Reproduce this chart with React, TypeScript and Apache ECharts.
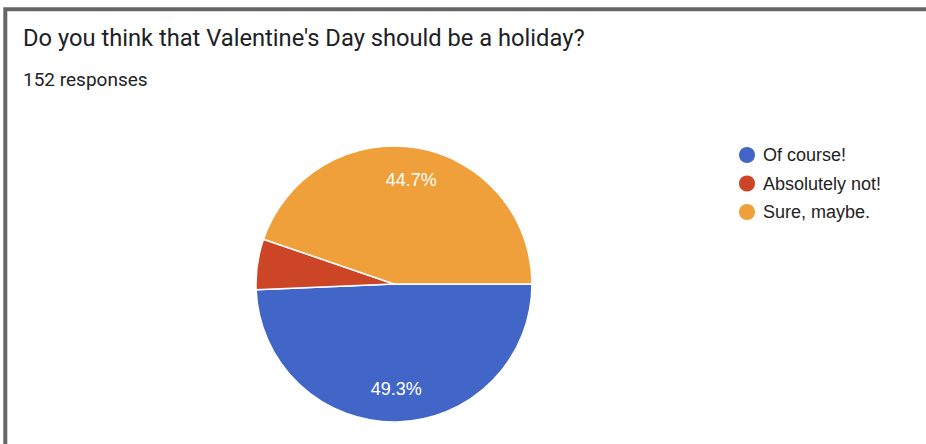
import React, { useEffect, useRef } from "react";
import * as echarts from "echarts";

const title = "Do you think that Valentine's Day should be a holiday?";
const subtitle = "152 responses";
const categories = ["Of course!", "Absolutely not!", "Sure, maybe."];
const responses = [75, 9, 68];
const colors = ["#4166c8", "#cc4526", "#f0a03b"];

export default function App() {
  const ref = useRef<HTMLDivElement>(null);
  useEffect(() => {
    if (!ref.current) return;
    const chart = echarts.init(ref.current, null, { renderer: "svg" });
    const total = responses.reduce((a, b) => a + b, 0);
    const data = categories.map((name, i) => ({
      name,
      value: responses[i],
      itemStyle: { color: colors[i] },
    }));
    const labelData = categories.map((name, i) => ({
      name,
      value: responses[i],
      label: { show: responses[i] / total >= 0.08 },
    }));
    chart.setOption({
      animation: false,
      backgroundColor: "#ffffff",
      color: colors,
      title: [
        {
          text: title,
          left: 18,
          top: 21,
          textStyle: {
            fontFamily: "Roboto",
            fontSize: 23.7,
            fontWeight: "normal",
            color: "#202124",
          },
        },
        {
          text: subtitle,
          left: 18,
          top: 65,
          textStyle: {
            fontFamily: "Roboto",
            fontSize: 19,
            fontWeight: "normal",
            color: "#202124",
          },
        },
      ],
      legend: {
        orient: "vertical",
        left: 732,
        top: 140,
        padding: 5,
        itemWidth: 18,
        itemHeight: 18,
        itemGap: 8.5,
        icon: "circle",
        data: categories,
        textStyle: {
          fontFamily: "Liberation Sans",
          fontSize: 18,
          lineHeight: 18,
          color: "#222222",
          padding: [0, 0, 0, 2],
        },
      },
      graphic: [
        {
          type: "rect",
          shape: { x: 5.3, y: 9.3, width: 1000, height: 1000 },
          style: { fill: "none", stroke: "#666666", lineWidth: 4 },
          silent: true,
        },
      ],
      series: [
        {
          type: "pie",
          center: [394, 284],
          radius: [0, 138],
          startAngle: 0,
          clockwise: true,
          itemStyle: { borderColor: "#ffffff", borderWidth: 1.5 },
          label: { show: false },
          labelLine: { show: false },
          emphasis: { disabled: true },
          data,
        },
        {
          type: "pie",
          center: [394, 284],
          radius: [66, 138],
          startAngle: 0,
          clockwise: true,
          silent: true,
          itemStyle: { color: "transparent", borderWidth: 0 },
          labelLine: { show: false },
          emphasis: { disabled: true },
          label: {
            position: "inside",
            color: "#ffffff",
            fontFamily: "Liberation Sans",
            fontSize: 18,
            formatter: (p: any) => ((p.value / total) * 100).toFixed(1) + "%",
          },
          data: labelData,
        },
      ],
    });
    return () => chart.dispose();
  }, []);
  return (
    <div
      ref={ref}
      style={{ position: "absolute", left: 0, top: 0, width: 926, height: 444 }}
    />
  );
}
